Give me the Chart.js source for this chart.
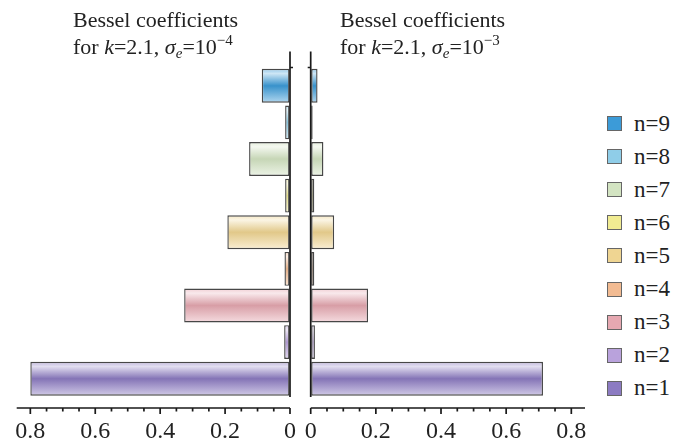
<!DOCTYPE html>
<html>
<head>
<meta charset="utf-8">
<script src="https://cdn.jsdelivr.net/npm/chart.js@4.4.0/dist/chart.umd.min.js"></script>
<style>
body { margin: 0; background: #fff; }
#wrap { position: relative; width: 697px; height: 446px; overflow: hidden; font-family: 'Liberation Serif', 'Times New Roman', serif; color: #222; }
canvas { position: absolute; top: 0; }
.title { position: absolute; top: 6px; font-size: 22px; line-height: 27px; white-space: nowrap; }
.title sub { font-size: 15px; vertical-align: -4px; line-height: 0; }
.title sup { font-size: 15px; vertical-align: 9px; line-height: 0; }
#legend { position: absolute; left: 607px; top: 107px; }
.item { height: 33.1px; display: flex; align-items: center; font-size: 23px; }
.box { width: 13px; height: 13px; border: 1.5px solid #666; margin-right: 12px; }
</style>
</head>
<body>
<div id="wrap">
  <canvas id="leftChart" width="300" height="446" style="left:0"></canvas>
  <canvas id="rightChart" width="300" height="446" style="left:300px"></canvas>
  <div class="title" style="left:73px">Bessel coefficients<br>for <i>k</i>=2.1, <i>&sigma;<sub>e</sub></i>=10<sup>&minus;4</sup></div>
  <div class="title" style="left:340px">Bessel coefficients<br>for <i>k</i>=2.1, <i>&sigma;<sub>e</sub></i>=10<sup>&minus;3</sup></div>
  <div id="legend"></div>
</div>
<script>
const nLabels = ['n=1', 'n=2', 'n=3', 'n=4', 'n=5', 'n=6', 'n=7', 'n=8', 'n=9'];
// sigma_e = 1e-4 (left) and 1e-3 (right)
const coeffLow = [0.80, 0.018, 0.326, 0.017, 0.193, 0.015, 0.126, 0.015, 0.087];
const coeffHigh = [0.713, 0.013, 0.176, 0.011, 0.072, 0.011, 0.039, 0.006, 0.021];
const majorTicks = [0, 0.2, 0.4, 0.6, 0.8];
const barColors = ['#8c7bc2', '#b9a2dc', '#e6a8b1', '#f2bb92', '#efd592', '#f1ec92', '#d3e4c2', '#8fcde8', '#3c9bd8'];

function mix(hex, target, t) {
    const a = parseInt(hex.slice(1), 16);
    const r = (a >> 16) & 255, g = (a >> 8) & 255, b = a & 255;
    return 'rgb(' + Math.round(r + (target - r) * t) + ',' + Math.round(g + (target - g) * t) + ',' + Math.round(b + (target - b) * t) + ')';
}

function barFill(context) {
    const chart = context.chart;
    const base = barColors[context.dataIndex];
    if (!chart.chartArea) return base;
    const y = chart.scales.y.getPixelForValue(context.dataIndex);
    const half = 17;
    const g = chart.ctx.createLinearGradient(0, y - half, 0, y + half);
    g.addColorStop(0, mix(base, 255, 0.45));
    g.addColorStop(0.14, mix(base, 255, 0.75));
    g.addColorStop(0.5, mix(base, 0, 0.06));
    g.addColorStop(1, mix(base, 255, 0.6));
    return g;
}

function isMajor(v) {
    return majorTicks.some(m => Math.abs(m - v) < 1e-6);
}

const axisLines = {
    id: 'axisLines',
    afterDraw(chart, args, opts) {
        const { ctx, chartArea } = chart;
        const x = chart.scales.x;
        const x0 = x.getPixelForValue(0);
        ctx.save();
        ctx.strokeStyle = '#1a1a1a';
        ctx.lineWidth = 1.7;
        ctx.beginPath();
        ctx.moveTo(x0, chartArea.top - 16);
        ctx.lineTo(x0, chartArea.bottom);
        ctx.moveTo(x0, chartArea.top);
        ctx.lineTo(x0 + opts.side * 3, chartArea.top);
        const ay = chartArea.bottom + 11;
        ctx.moveTo(x.left, ay);
        ctx.lineTo(x.right, ay);
        x.ticks.forEach(t => {
            const px = x.getPixelForValue(t.value);
            ctx.moveTo(px, ay);
            ctx.lineTo(px, ay + (isMajor(t.value) ? 6 : 3.5));
        });
        ctx.stroke();
        ctx.restore();
    }
};

function makeChart(id, values, reverse, padding, side) {
    return new Chart(document.getElementById(id), {
        type: 'bar',
        data: {
            labels: nLabels,
            datasets: [{
                data: values,
                backgroundColor: barFill,
                borderColor: '#474747',
                borderWidth: 1.4,
                borderSkipped: false,
                barPercentage: 0.925,
                categoryPercentage: 1
            }]
        },
        options: {
            indexAxis: 'y',
            responsive: false,
            animation: false,
            layout: { padding: padding },
            scales: {
                y: { display: false, reverse: true },
                x: {
                    reverse: reverse,
                    min: 0,
                    max: 0.842,
                    grid: { display: true, drawOnChartArea: false, tickLength: 20, tickColor: 'rgba(0,0,0,0)' },
                    border: { display: false },
                    afterFit: scale => { scale.height = 49; },
                    ticks: {
                        stepSize: 0.05,
                        includeBounds: false,
                        autoSkip: false,
                        maxRotation: 0,
                        padding: 0,
                        color: '#222',
                        font: { family: "'Liberation Serif', 'Times New Roman', serif", size: 24 },
                        callback: v => isMajor(v) ? String(Math.round(v * 10) / 10) : ''
                    }
                }
            },
            plugins: {
                legend: { display: false },
                tooltip: { enabled: false },
                axisLines: { side: side }
            }
        },
        plugins: [axisLines]
    });
}

makeChart('leftChart', coeffLow, true, { left: 16.7, right: 10, top: 67.5, bottom: 0 }, 1);
makeChart('rightChart', coeffHigh, false, { left: 10.7, right: 15, top: 67.5, bottom: 0 }, -1);

const legend = document.getElementById('legend');
for (let i = nLabels.length - 1; i >= 0; i--) {
    const row = document.createElement('div');
    row.className = 'item';
    row.innerHTML = '<span class="box" style="background:' + barColors[i] + '"></span>' + nLabels[i];
    legend.appendChild(row);
}
</script>
</body>
</html>
